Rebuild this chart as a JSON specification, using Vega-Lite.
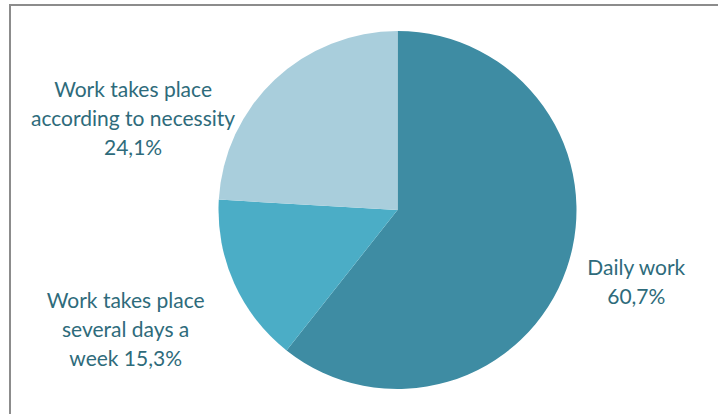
{
  "$schema": "https://vega.github.io/schema/vega-lite/v6.json",
  "width": 775,
  "height": 410,
  "padding": {"left": 10, "top": 5, "right": 0, "bottom": 0},
  "background": "white",
  "view": {"stroke": "#8c8c8c", "strokeWidth": 2},
  "config": {"view": {"stroke": "#8c8c8c", "strokeWidth": 2}},
  "data": {
    "values": [
      {"category": "Daily work", "value": 60.7, "order": 1, "label": "Daily work\n60,7%"},
      {"category": "Work takes place several days a week", "value": 15.3, "order": 2, "label": "Work takes place\nseveral days a\nweek 15,3%"},
      {"category": "Work takes place according to necessity", "value": 24.1, "order": 3, "label": "Work takes place\naccording to necessity\n24,1%"}
    ]
  },
  "transform": [
    {"stack": "value", "groupby": [], "as": ["v0", "v1"], "sort": [{"field": "order", "order": "ascending"}]}
  ],
  "layer": [
    {
      "mark": {"type": "arc", "radius": 179},
      "encoding": {
        "theta": {"field": "v0", "type": "quantitative", "scale": {"domain": [0, 100.1]}},
        "theta2": {"field": "v1"},
        "color": {
          "field": "category",
          "type": "nominal",
          "scale": {
            "domain": ["Daily work", "Work takes place several days a week", "Work takes place according to necessity"],
            "range": ["#3e8ca3", "#4badc6", "#a9cedc"]
          },
          "legend": null
        }
      }
    },
    {
      "transform": [{"filter": "datum.order === 1"}],
      "mark": {"type": "text", "radius": 246, "thetaOffset": 1.814, "font": "Lato", "fontSize": 21, "lineHeight": 29, "lineBreak": "\n", "color": "#2e6b7b", "align": "center", "baseline": "middle"},
      "encoding": {
        "theta": {"field": "v0", "type": "quantitative"},
        "text": {"field": "label"}
      }
    },
    {
      "transform": [{"filter": "datum.order === 2"}],
      "mark": {"type": "text", "radius": 287, "thetaOffset": 0.576, "font": "Lato", "fontSize": 21, "lineHeight": 29, "lineBreak": "\n", "color": "#2e6b7b", "align": "center", "baseline": "middle"},
      "encoding": {
        "theta": {"field": "v0", "type": "quantitative"},
        "text": {"field": "label"}
      }
    },
    {
      "transform": [{"filter": "datum.order === 3"}],
      "mark": {"type": "text", "radius": 290, "thetaOffset": 0.365, "font": "Lato", "fontSize": 21, "lineHeight": 29, "lineBreak": "\n", "color": "#2e6b7b", "align": "center", "baseline": "middle"},
      "encoding": {
        "theta": {"field": "v0", "type": "quantitative"},
        "text": {"field": "label"}
      }
    }
  ]
}
